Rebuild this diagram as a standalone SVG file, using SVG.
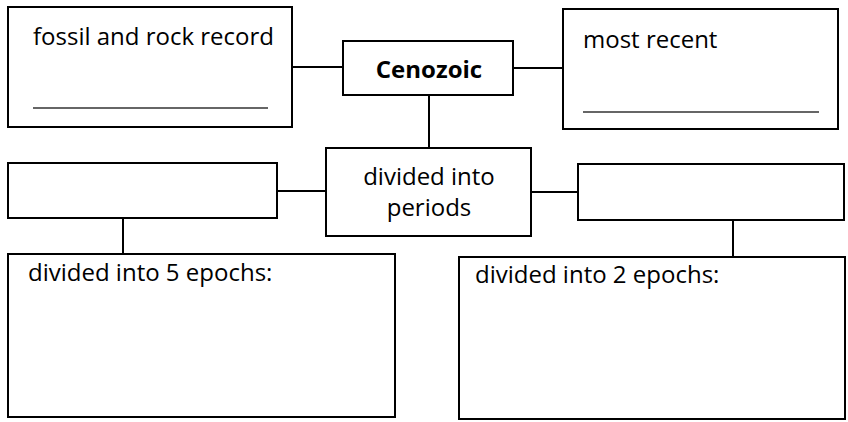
<svg xmlns="http://www.w3.org/2000/svg" width="848" height="422" viewBox="0 0 848 422">
<style>
.box{fill:#fff;stroke:#000;stroke-width:2}
.ln{stroke:#000;stroke-width:2;fill:none}
.ul{stroke:#333;stroke-width:1.5}
text{font-family:"Open Sans","Noto Sans",sans-serif;font-size:24px;fill:#000}
.b{font-weight:bold;font-size:24px}
.c{text-anchor:middle}
</style>
<rect width="848" height="422" fill="#fff"/>
<g id="connectors">
<line class="ln" x1="292" y1="67" x2="343" y2="67"/>
<line class="ln" x1="513" y1="68" x2="563" y2="68"/>
<line class="ln" x1="429" y1="95" x2="429" y2="148"/>
<line class="ln" x1="277" y1="191" x2="326" y2="191"/>
<line class="ln" x1="531" y1="192" x2="578" y2="192"/>
<line class="ln" x1="123" y1="218" x2="123" y2="254"/>
<line class="ln" x1="733" y1="220" x2="733" y2="257"/>
</g>
<g id="fossil">
<rect class="box" x="8" y="7" width="284" height="120"/>
<text x="33" y="45">fossil and rock record</text>
<line class="ul" x1="33" y1="108" x2="268" y2="108"/>
</g>
<g id="cenozoic">
<rect class="box" x="343" y="41" width="170" height="54"/>
<text class="b c" x="429" y="78">Cenozoic</text>
</g>
<g id="recent">
<rect class="box" x="563" y="9" width="275" height="120"/>
<text x="583" y="48">most recent</text>
<line class="ul" x1="583" y1="112" x2="819" y2="112"/>
</g>
<g id="periods">
<rect class="box" x="326" y="148" width="205" height="88"/>
<text class="c" x="429" y="185">divided into</text>
<text class="c" x="429" y="216">periods</text>
</g>
<g id="leftperiod">
<rect class="box" x="8" y="163" width="269" height="55"/>
</g>
<g id="rightperiod">
<rect class="box" x="578" y="164" width="266" height="56"/>
</g>
<g id="epochs5">
<rect class="box" x="8" y="254" width="387" height="163"/>
<text x="28" y="281">divided into 5 epochs:</text>
</g>
<g id="epochs2">
<rect class="box" x="459" y="257" width="386" height="162"/>
<text x="475" y="283">divided into 2 epochs:</text>
</g>
</svg>
